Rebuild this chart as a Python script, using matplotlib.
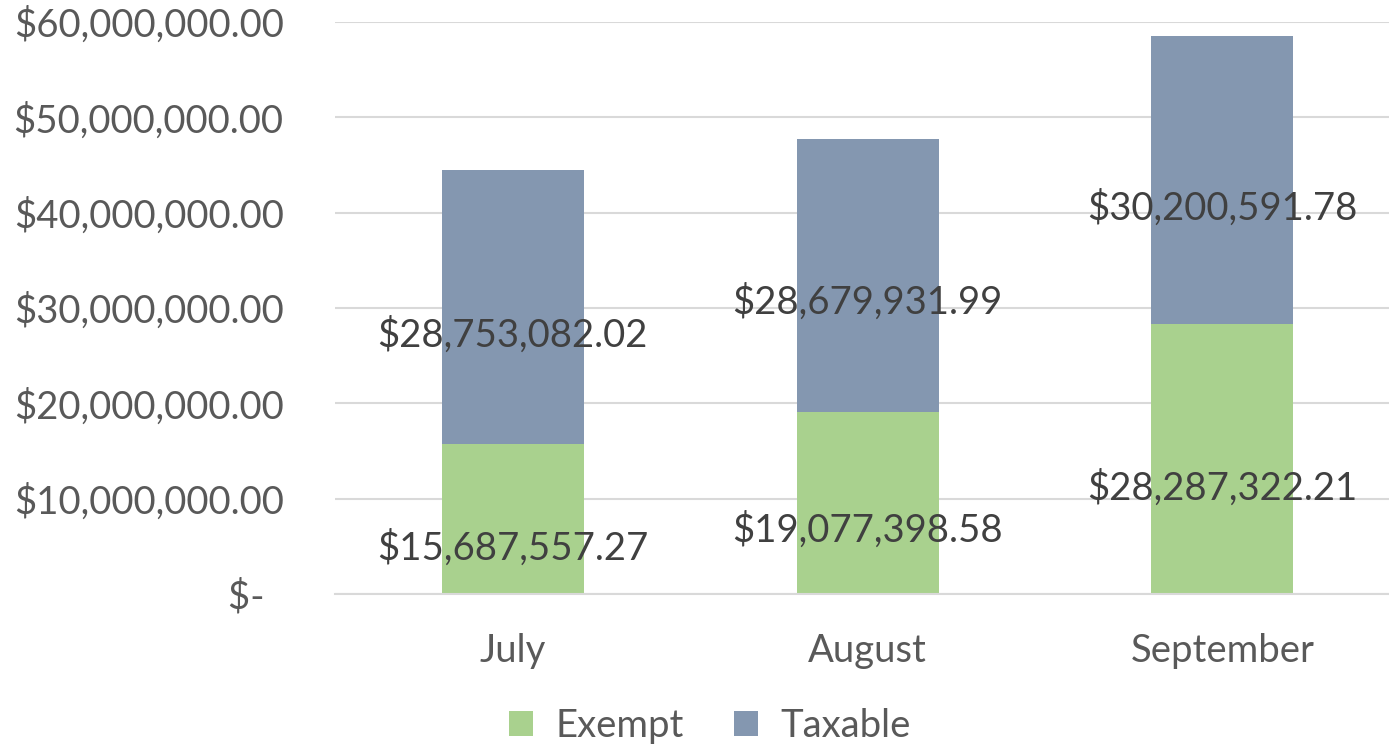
import matplotlib.pyplot as plt
import numpy as np

months = ["July", "August", "September"]
exempt = [15687557.27, 19077398.58, 28287322.21]
taxable = [28753082.02, 28679931.99, 30200591.78]
# label heights (data units) as placed in the original chart
exempt_label_y = [4.8e6, 6.7e6, 11.1e6]
taxable_label_y = [27.2e6, 30.6e6, 40.5e6]
yticks = [0, 10e6, 20e6, 30e6, 40e6, 50e6, 60e6]

plt.rcParams['font.family'] = ['Lato', 'DejaVu Sans']
fs = 27.5

fig = plt.figure(figsize=(13.89, 7.45), dpi=100)
ax = fig.add_axes([335 / 1389, 1 - 594 / 745, (1400 - 335) / 1389, (594 - 22) / 745])

x = np.arange(len(months))
ax.bar(x, exempt, width=0.4, color="#A9D18E", label="Exempt", zorder=2)
ax.bar(x, taxable, width=0.4, bottom=exempt, color="#8497B0", label="Taxable", zorder=2)

for i in range(len(months)):
    ax.text(x[i], exempt_label_y[i], f"${exempt[i]:,.2f}", ha="center", va="center",
            fontsize=fs, color="#404040", zorder=3)
    ax.text(x[i], taxable_label_y[i], f"${taxable[i]:,.2f}", ha="center", va="center",
            fontsize=fs, color="#404040", zorder=3)

ax.set_xlim(-0.5, 2.5)
ax.set_ylim(0, 60e6)
ax.set_yticks(yticks)
# accounting format: zero shows as "$-" with trailing padding
ax.set_yticklabels(["$-  " if v == 0 else f"${v:,.2f}" for v in yticks])
ax.set_xticks(x)
ax.set_xticklabels(months)
ax.tick_params(axis="y", length=0, pad=37, labelsize=fs, labelcolor="#595959")
ax.tick_params(axis="x", length=0, pad=28, labelsize=fs, labelcolor="#595959")
ax.yaxis.grid(True, color="#D9D9D9", linewidth=1.5, zorder=0)
ax.set_axisbelow(True)
for s in ["top", "right", "left"]:
    ax.spines[s].set_visible(False)
ax.spines["bottom"].set_color("#D9D9D9")
ax.spines["bottom"].set_linewidth(1.5)

fig.legend(loc="lower center", bbox_to_anchor=(710 / 1389, -0.045), ncol=2, frameon=False,
           fontsize=fs, labelcolor="#595959", handlelength=0.62, handleheight=0.62,
           columnspacing=1.3, handletextpad=0.6)

fig.savefig("out.png", dpi=100)
